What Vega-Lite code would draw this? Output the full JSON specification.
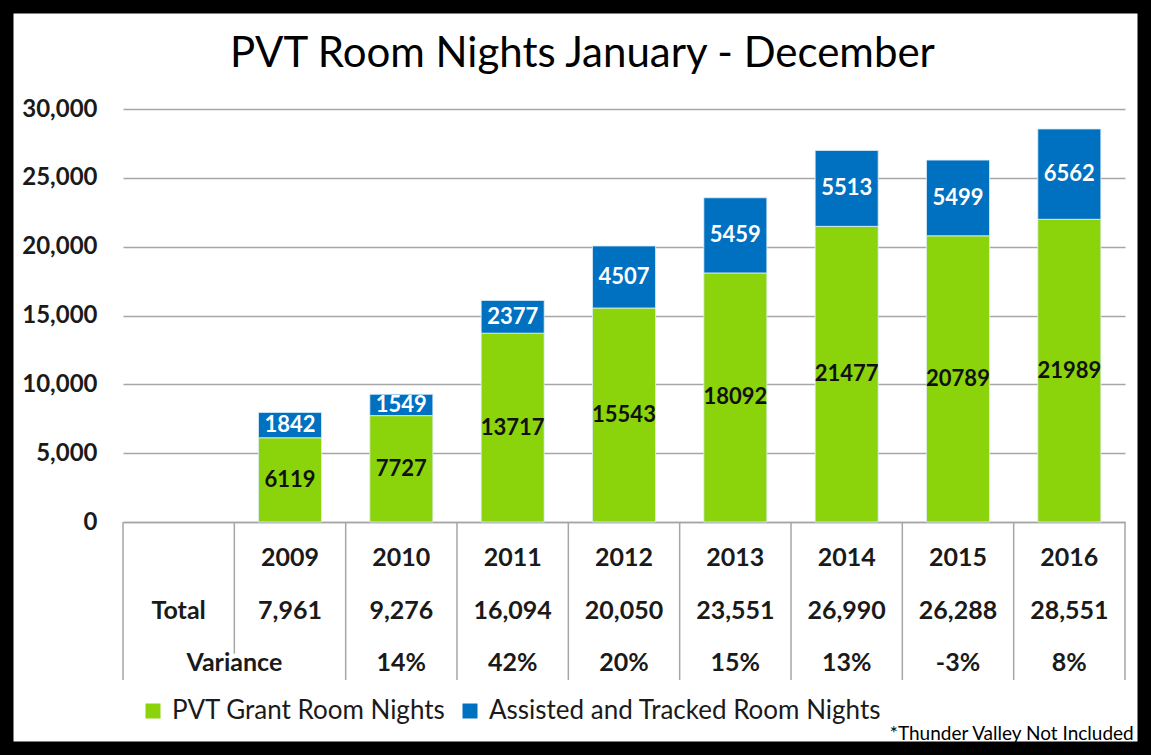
{
  "$schema": "https://vega.github.io/schema/vega-lite/v6.json",
  "padding": 0,
  "background": "white",
  "bounds": "flush",
  "title": {"text": "PVT Room Nights January - December", "font": "Lato", "fontSize": 42, "fontWeight": "normal", "color": "#000000", "anchor": "middle", "offset": -76},
  "datasets": {
    "bars": [
      {"year": "2009", "series": "PVT Grant Room Nights", "order": 1, "value": 6119},
      {"year": "2009", "series": "Assisted and Tracked Room Nights", "order": 2, "value": 1842},
      {"year": "2010", "series": "PVT Grant Room Nights", "order": 1, "value": 7727},
      {"year": "2010", "series": "Assisted and Tracked Room Nights", "order": 2, "value": 1549},
      {"year": "2011", "series": "PVT Grant Room Nights", "order": 1, "value": 13717},
      {"year": "2011", "series": "Assisted and Tracked Room Nights", "order": 2, "value": 2377},
      {"year": "2012", "series": "PVT Grant Room Nights", "order": 1, "value": 15543},
      {"year": "2012", "series": "Assisted and Tracked Room Nights", "order": 2, "value": 4507},
      {"year": "2013", "series": "PVT Grant Room Nights", "order": 1, "value": 18092},
      {"year": "2013", "series": "Assisted and Tracked Room Nights", "order": 2, "value": 5459},
      {"year": "2014", "series": "PVT Grant Room Nights", "order": 1, "value": 21477},
      {"year": "2014", "series": "Assisted and Tracked Room Nights", "order": 2, "value": 5513},
      {"year": "2015", "series": "PVT Grant Room Nights", "order": 1, "value": 20789},
      {"year": "2015", "series": "Assisted and Tracked Room Nights", "order": 2, "value": 5499},
      {"year": "2016", "series": "PVT Grant Room Nights", "order": 1, "value": 21989},
      {"year": "2016", "series": "Assisted and Tracked Room Nights", "order": 2, "value": 6562}
    ],
    "table": [
      {"year": "2009", "total": "7,961", "variance": ""},
      {"year": "2010", "total": "9,276", "variance": "14%"},
      {"year": "2011", "total": "16,094", "variance": "42%"},
      {"year": "2012", "total": "20,050", "variance": "20%"},
      {"year": "2013", "total": "23,551", "variance": "15%"},
      {"year": "2014", "total": "26,990", "variance": "13%"},
      {"year": "2015", "total": "26,288", "variance": "-3%"},
      {"year": "2016", "total": "28,551", "variance": "8%"}
    ],
    "lines": [
      {"col": "hdr"}, {"col": "2010"}, {"col": "2011"}, {"col": "2012"}, {"col": "2013"}, {"col": "2014"}, {"col": "2015"}, {"col": "2016"}
    ],
    "frame": [{"v": 0}, {"v": 1}]
  },
  "spacing": 0,
  "resolve": {"scale": {"x": "independent"}},
  "vconcat": [
    {
      "width": 1002,
      "height": 413,
      "data": {"name": "bars"},
      "encoding": {
        "x": {"field": "year", "type": "nominal", "sort": null,
          "scale": {"domain": ["hdr", "2009", "2010", "2011", "2012", "2013", "2014", "2015", "2016"], "paddingInner": 0.434, "paddingOuter": 0.217},
          "axis": {"labels": false, "ticks": false, "tickSize": 0, "labelPadding": 0, "title": null, "domainColor": "#A6A6A6", "domainWidth": 1.5, "grid": false}},
        "order": {"field": "order", "type": "quantitative"}
      },
      "layer": [
        {
          "mark": {"type": "bar", "stroke": "#DDEFF8", "strokeWidth": 0.8},
          "encoding": {
            "y": {"field": "value", "type": "quantitative", "stack": "zero",
              "scale": {"domain": [0, 30000], "nice": false},
              "axis": {"values": [0, 5000, 10000, 15000, 20000, 25000, 30000], "format": ",.0f", "title": null, "domain": false, "ticks": false,
                "labelFont": "Lato", "labelFontSize": 24, "labelFontWeight": "bold", "labelColor": "#1a1a1a", "labelPadding": 26,
                "gridColor": "#A6A6A6", "gridWidth": 1.5}},
            "color": {"field": "series", "type": "nominal",
              "scale": {"domain": ["PVT Grant Room Nights", "Assisted and Tracked Room Nights"], "range": ["#8BD30B", "#0070C0"]},
              "legend": {"orient": "none", "legendX": 17, "legendY": 589, "direction": "horizontal", "title": null,
                "symbolType": "square", "symbolSize": 225, "symbolStrokeWidth": 0, "labelFont": "Lato", "labelFontSize": 26,
                "labelColor": "#1a1a1a", "labelOffset": 6, "columnPadding": 11, "labelLimit": 500, "padding": 0}}
          }
        },
        {
          "mark": {"type": "text", "font": "Lato", "fontSize": 22, "fontWeight": "bold", "baseline": "middle"},
          "encoding": {
            "y": {"field": "value", "type": "quantitative", "stack": "zero", "bandPosition": 0.5,
              "axis": {"values": [0, 5000, 10000, 15000, 20000, 25000, 30000], "format": ",.0f", "title": null, "domain": false, "ticks": false,
                "labelFont": "Lato", "labelFontSize": 24, "labelFontWeight": "bold", "labelColor": "#1a1a1a", "labelPadding": 26,
                "gridColor": "#A6A6A6", "gridWidth": 1.5}},
            "text": {"field": "value", "type": "quantitative", "format": "d"},
            "color": {"field": "series", "type": "nominal", "scale": {"domain": ["PVT Grant Room Nights", "Assisted and Tracked Room Nights"], "range": ["#8BD30B", "#0070C0"]}, "legend": null},
            "fill": {"field": "series", "type": "nominal", "scale": {"domain": ["PVT Grant Room Nights", "Assisted and Tracked Room Nights"], "range": ["#111111", "#FFFFFF"]}, "legend": null}
          }
        }
      ]
    },
    {
      "width": 1002,
      "height": 158,
      "title": {"text": "*Thunder Valley Not Included", "orient": "bottom", "anchor": "end", "font": "Lato", "fontSize": 19, "fontWeight": "normal", "color": "#000000", "offset": 44, "dx": 8},
      "encoding": {
        "x": {"field": "year", "type": "nominal",
          "scale": {"domain": ["hdr", "2009", "2010", "2011", "2012", "2013", "2014", "2015", "2016"], "paddingInner": 0, "paddingOuter": 0},
          "axis": null},
        "y": {"scale": {"domain": ["Year", "Total", "Variance"], "paddingInner": 0, "paddingOuter": 0}, "axis": null}
      },
      "layer": [
        {
          "data": {"name": "lines"},
          "mark": {"type": "rule", "color": "#A6A6A6", "strokeWidth": 1.5},
          "encoding": {"x": {"field": "col", "type": "nominal", "bandPosition": 0}, "y": null}
        },
        {
          "data": {"name": "lines"},
          "transform": [{"filter": "datum.col === '2016'"}],
          "mark": {"type": "rule", "color": "#A6A6A6", "strokeWidth": 1.5},
          "encoding": {"x": {"field": "col", "type": "nominal", "bandPosition": 1}, "y": null}
        },
        {
          "data": {"name": "table"},
          "transform": [{"filter": "datum.year === '2009'"}],
          "mark": {"type": "rule", "color": "#A6A6A6", "strokeWidth": 1.5},
          "encoding": {
            "x": {"field": "year", "type": "nominal", "bandPosition": 0},
            "y": {"datum": "Year", "type": "nominal", "bandPosition": 0},
            "y2": {"datum": "Variance"}
          }
        },
        {
          "data": {"name": "table"},
          "mark": {"type": "text", "font": "Lato", "fontSize": 25, "fontWeight": "bold", "color": "#1a1a1a", "baseline": "middle", "dy": 10},
          "encoding": {"y": {"datum": "Year", "type": "nominal"}, "text": {"field": "year"}}
        },
        {
          "data": {"name": "table"},
          "mark": {"type": "text", "font": "Lato", "fontSize": 25, "fontWeight": "bold", "color": "#1a1a1a", "baseline": "middle", "dy": 10},
          "encoding": {"y": {"datum": "Total", "type": "nominal"}, "text": {"field": "total"}}
        },
        {
          "data": {"name": "table"},
          "mark": {"type": "text", "font": "Lato", "fontSize": 25, "fontWeight": "bold", "color": "#1a1a1a", "baseline": "middle", "dy": 9},
          "encoding": {"y": {"datum": "Variance", "type": "nominal"}, "text": {"field": "variance"}}
        },
        {
          "data": {"values": [{"label": "Total", "col": "hdr", "row": "Total"}]},
          "mark": {"type": "text", "font": "Lato", "fontSize": 25, "fontWeight": "bold", "color": "#1a1a1a", "baseline": "middle", "dy": 10},
          "encoding": {"x": {"field": "col", "type": "nominal"}, "y": {"field": "row", "type": "nominal"}, "text": {"field": "label"}}
        },
        {
          "data": {"values": [{"label": "Variance", "col": "2009", "row": "Variance"}]},
          "mark": {"type": "text", "font": "Lato", "fontSize": 25, "fontWeight": "bold", "color": "#1a1a1a", "baseline": "middle", "dy": 9},
          "encoding": {"x": {"field": "col", "type": "nominal", "bandPosition": 0}, "y": {"field": "row", "type": "nominal"}, "text": {"field": "label"}}
        },
        {
          "data": {"name": "frame"},
          "mark": {"type": "point", "opacity": 0},
          "encoding": {
            "x": {"datum": "hdr", "type": "nominal"},
            "y": {"datum": "Year", "type": "nominal"},
            "stroke": {"field": "v", "type": "quantitative",
              "scale": {"range": ["rgba(255,255,255,0)", "rgba(255,255,255,0)"]},
              "legend": {"orient": "none", "legendX": -123, "legendY": -109, "direction": "horizontal", "title": null,
                "labelOpacity": 0, "labelFontSize": 1, "labelOffset": -300, "tickCount": 2,
                "gradientLength": 1151, "gradientThickness": 755, "gradientStrokeColor": "#000000", "gradientStrokeWidth": 27, "padding": 0}}
          }
        }
      ]
    }
  ],
  "config": {
    "view": {"stroke": null},
    "font": "Lato",
    "axisY": {"format": ",.0f"}
  }
}
